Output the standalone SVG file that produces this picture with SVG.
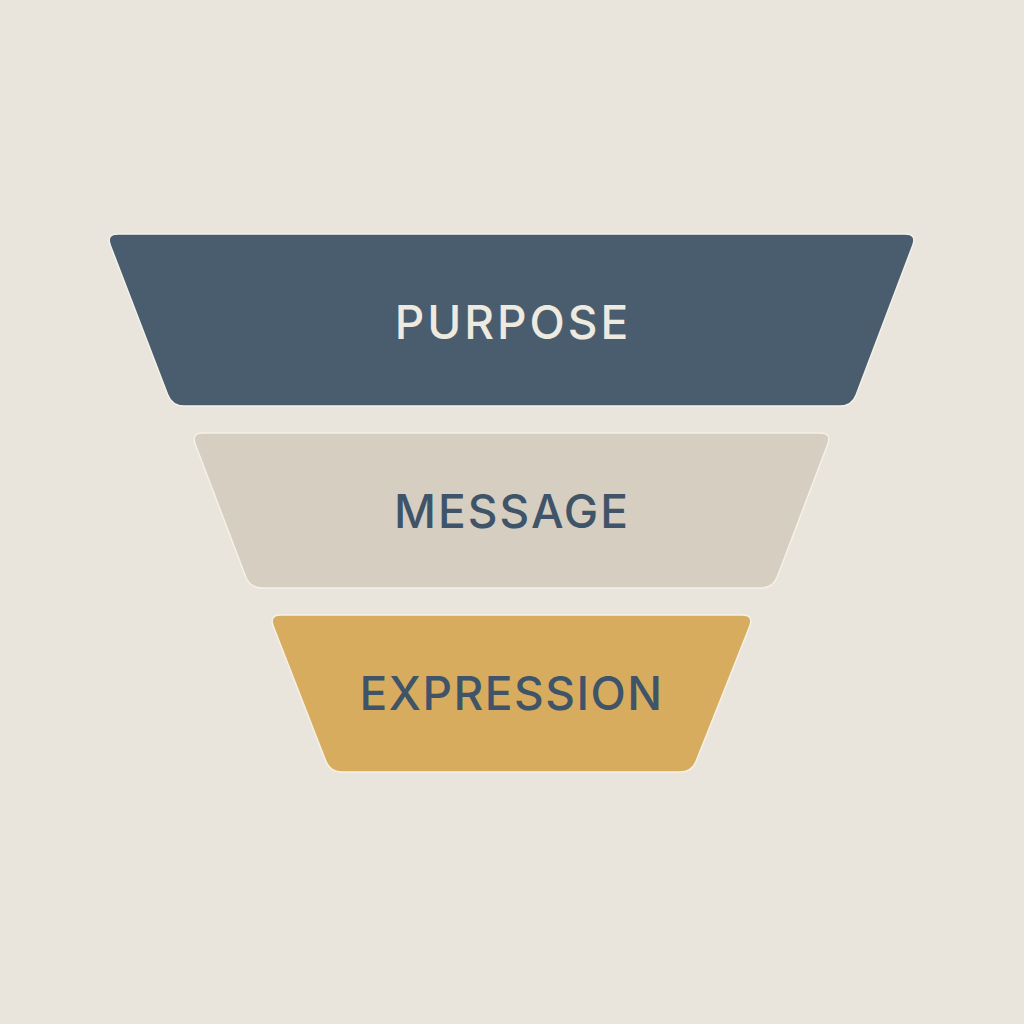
<svg xmlns="http://www.w3.org/2000/svg" width="1024" height="1024" viewBox="0 0 1024 1024">
  <style>
    .lbl { font-family: Inter, "Noto Sans", "DejaVu Sans", sans-serif; font-size: 46px; font-weight: 550; letter-spacing: 2px; text-anchor: middle; }
    .edge { stroke: #f4f1e9; stroke-width: 1.5; }
  </style>
  <rect x="0" y="0" width="1024" height="1024" fill="#e9e5dc"/>
  <g id="purpose">
    <path class="edge" fill="#4a5d6e" d="M118,234 H905 Q917,234 912.8,245.2 L856.2,394.8 Q852,406 840,406 H184 Q172,406 167.7,394.8 L110.3,245.2 Q106,234 118,234 Z"/>
    <text class="lbl" x="513" y="339" fill="#eeeae0" style="letter-spacing:3px">PURPOSE</text>
  </g>
  <g id="message">
    <path class="edge" fill="#d5cec1" d="M203,433 H820 Q832,433 827.7,444.2 L777.3,576.8 Q773,588 761,588 H262 Q250,588 245.7,576.8 L195.3,444.2 Q191,433 203,433 Z"/>
    <text class="lbl" x="512" y="528" fill="#3f5468">MESSAGE</text>
  </g>
  <g id="expression">
    <path class="edge" fill="#d8ac5e" d="M281,615 H742 Q754,615 749.7,626.2 L696.3,760.8 Q692,772 680,772 H342 Q330,772 325.7,760.8 L273.3,626.2 Q269,615 281,615 Z"/>
    <text class="lbl" x="511.5" y="710" fill="#3f5468" style="letter-spacing:1.5px">EXPRESSION</text>
  </g>
  <g id="connectors"/>
</svg>
